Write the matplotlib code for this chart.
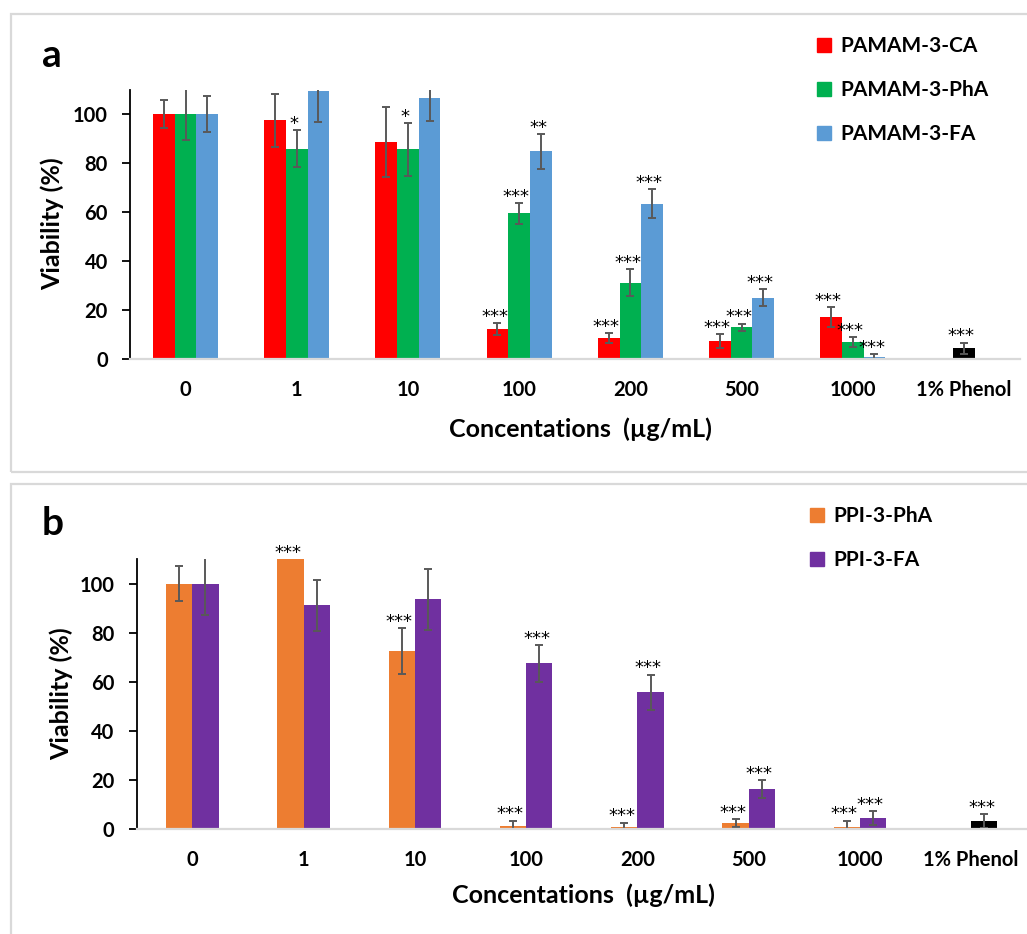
import numpy as np
import matplotlib.pyplot as plt
from matplotlib.patches import Rectangle, Patch

categories = ['0', '1', '10', '100', '200', '500', '1000', '1% Phenol']

# panel a - PAMAM dendrimers (phenol control drawn in the middle series)
pamam_ca = [100, 97.6, 88.7, 12.5, 8.7, 7.5, 17.3, np.nan]
pamam_ca_err = [5.7, 10.8, 14.3, 2.4, 1.9, 2.8, 4.1, np.nan]
pamam_ca_sig = ['', '', '', '***', '***', '***', '***', '']

pamam_pha = [100, 86.0, 85.7, 59.6, 31.3, 13.0, 7.2, 4.5]
pamam_pha_err = [10.6, 7.5, 10.7, 4.3, 5.4, 1.6, 2.0, 2.3]
pamam_pha_sig = ['', '*', '*', '***', '***', '***', '***', '***']

pamam_fa = [100, 109.4, 106.8, 84.9, 63.5, 25.2, 1.1, np.nan]
pamam_fa_err = [7.3, 12.7, 9.7, 7.1, 5.9, 3.5, 1.0, np.nan]
pamam_fa_sig = ['', '', '', '**', '***', '***', '***', '']

# panel b - PPI dendrimers
ppi_pha = [100, 115, 72.6, 1.2, 0.7, 2.3, 0.9, np.nan]
ppi_pha_err = [7.1, 4.0, 9.3, 2.2, 1.9, 1.6, 2.5, np.nan]
ppi_pha_sig = ['', '***', '***', '***', '***', '***', '***', '']

ppi_fa = [100, 91.2, 93.6, 67.5, 55.7, 16.3, 4.4, 3.3]
ppi_fa_err = [12.9, 10.3, 12.4, 7.6, 7.2, 3.7, 2.8, 2.9]
ppi_fa_sig = ['', '', '', '***', '***', '***', '***', '***']

plt.rcParams['font.family'] = ['Lato', 'DejaVu Sans']

W, H = 1027, 934
YMAX = 110
fig = plt.figure(figsize=(W / 100, H / 100), dpi=100)


def px_axes(x0, x1, y_top, y_bottom):
    return fig.add_axes([x0 / W, 1 - y_bottom / H, (x1 - x0) / W, (y_bottom - y_top) / H])


def draw_panel(ax, series, width):
    x = np.arange(len(categories))
    n = len(series)
    for k, (vals, errs, sig, color, label, phenol) in enumerate(series):
        off = (k - (n - 1) / 2) * width
        colors = [color] * (len(categories) - 1) + ['black' if phenol else color]
        ax.bar(x + off, vals, width, color=colors, label=label)
        ax.errorbar(x + off, vals, yerr=errs, fmt='none', ecolor='#595959',
                    elinewidth=1.4, capsize=3, capthick=1.4)
        for xi, v, e, s in zip(x + off, vals, errs, sig):
            if s:
                top = min(v + e, YMAX)
                ax.annotate(s, (xi, top), xytext=(-2, -2), textcoords='offset points',
                            ha='center', va='bottom', fontsize=13,
                            family='DejaVu Sans', annotation_clip=False)
    ax.set_xlim(-0.5, len(categories) - 0.5)
    ax.set_ylim(0, YMAX)
    ax.set_yticks(range(0, 101, 20))
    ax.set_xticks(x)
    ax.set_xticklabels(categories)
    for lab in ax.get_xticklabels() + ax.get_yticklabels():
        lab.set_fontweight('bold')
        lab.set_fontsize(14.5)
    ax.tick_params(axis='x', length=0, pad=15)
    ax.tick_params(axis='y', length=6, width=1.3, pad=10)
    for side in ['top', 'right']:
        ax.spines[side].set_visible(False)
    ax.spines['left'].set_linewidth(1.3)
    ax.spines['bottom'].set_color('#d9d9d9')
    ax.spines['bottom'].set_linewidth(1.6)
    handles = [Patch(color=s[3]) for s in series]
    labels = [s[4] for s in series]
    return handles, labels


# frames around panels
for (x0, y0, x1, y1) in [(11, 14, 1060, 472), (11, 484, 1060, 960)]:
    fig.add_artist(Rectangle((x0 / W, 1 - y1 / H), (x1 - x0) / W, (y1 - y0) / H,
                             transform=fig.transFigure, fill=False,
                             edgecolor='#d9d9d9', linewidth=1.6))

legend_style = dict(bbox_transform=fig.transFigure, loc='upper left', frameon=False,
                    prop=dict(weight='bold', size=15), handlelength=0.65,
                    handleheight=0.65, handletextpad=0.45, labelspacing=1.15,
                    borderpad=0, borderaxespad=0)

ax_a = px_axes(130, 1019.5, 359.3 - YMAX * 2.45, 359.3)
h, l = draw_panel(ax_a, [
    (pamam_ca, pamam_ca_err, pamam_ca_sig, '#ff0000', 'PAMAM-3-CA', False),
    (pamam_pha, pamam_pha_err, pamam_pha_sig, '#00b050', 'PAMAM-3-PhA', True),
    (pamam_fa, pamam_fa_err, pamam_fa_sig, '#5b9bd5', 'PAMAM-3-FA', False),
], 0.195)
ax_a.legend(h, l, bbox_to_anchor=(817 / W, 1 - 36 / H), **legend_style)

ax_b = px_axes(136.7, 1026.8, 829 - YMAX * 2.453, 829)
h, l = draw_panel(ax_b, [
    (ppi_pha, ppi_pha_err, ppi_pha_sig, '#ed7d31', 'PPI-3-PhA', False),
    (ppi_fa, ppi_fa_err, ppi_fa_sig, '#7030a0', 'PPI-3-FA', True),
], 0.236)
ax_b.legend(h, l, bbox_to_anchor=(810 / W, 1 - 506 / H), **legend_style)

# axis titles and panel letters
for yl, xl, letter in [((52, 224), (580, 429), ('a', 42, 67)),
                       ((61, 694), (583, 895), ('b', 42, 535))]:
    fig.text(yl[0] / W, 1 - yl[1] / H, 'Viability (%)', rotation=90,
             ha='center', va='center', fontsize=18, fontweight='bold')
    fig.text(xl[0] / W, 1 - xl[1] / H, 'Concentations  (µg/mL)',
             ha='center', va='center', fontsize=18, fontweight='bold')
    fig.text(letter[1] / W, 1 - letter[2] / H, letter[0], ha='left', va='baseline',
             fontsize=28, fontweight='bold')

fig.savefig('out.png', dpi=100)
